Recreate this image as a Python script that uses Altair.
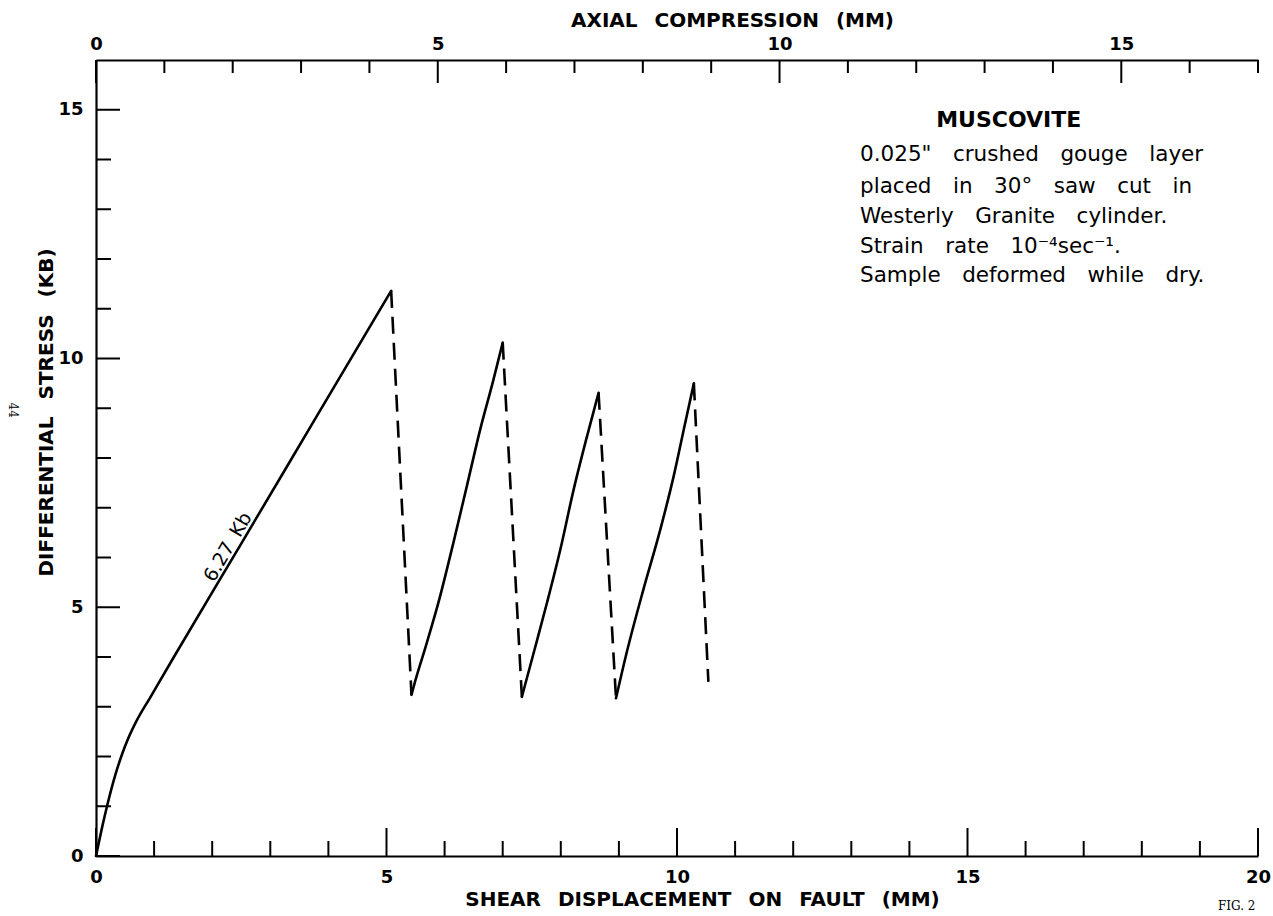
import altair as alt
import pandas as pd

# ---------------- data ----------------
# loading curves (solid): shear displacement on fault (mm) vs differential stress (kb)
seg0_x = [0.0, 0.10, 0.20, 0.33, 0.45, 0.55, 0.70, 0.93, 1.33, 2.50, 3.80, 5.08]
seg0_y = [0.0, 0.55, 1.05, 1.62, 2.05, 2.35, 2.72, 3.18, 3.98, 6.28, 8.84, 11.36]
seg1_x = [5.43, 5.49, 5.69, 5.92, 6.15, 6.38, 6.61, 6.84, 7.00]
seg1_y = [3.24, 3.50, 4.27, 5.21, 6.29, 7.42, 8.56, 9.57, 10.32]
seg2_x = [7.33, 7.53, 7.76, 7.99, 8.22, 8.45, 8.65]
seg2_y = [3.20, 4.07, 5.08, 6.15, 7.36, 8.43, 9.31]
seg3_x = [8.95, 9.13, 9.42, 9.71, 9.94, 10.14, 10.29]
seg3_y = [3.17, 4.07, 5.35, 6.55, 7.62, 8.70, 9.50]

# stress drops (dashed)
drop_x0 = [5.08, 7.00, 8.65, 10.29]
drop_y0 = [11.36, 10.32, 9.31, 9.50]
drop_x1 = [5.43, 7.33, 8.95, 10.54]
drop_y1 = [3.24, 3.20, 3.17, 3.50]

# axis ticks
shear_major = [0, 5, 10, 15, 20]
shear_minor = [1, 2, 3, 4, 6, 7, 8, 9, 11, 12, 13, 14, 16, 17, 18, 19]
stress_major = [0, 5, 10, 15]
stress_minor = [1, 2, 3, 4, 6, 7, 8, 9, 11, 12, 13, 14]
axial_major = [0, 5, 10, 15]
axial_minor = [1, 2, 3, 4, 6, 7, 8, 9, 11, 12, 13, 14, 16, 17]

# annotation text (positions in data units)
title_text = ["MUSCOVITE"]
title_x = [15.71]
title_y = [14.79]
note_lines = [
    "0.025\"\u2003crushed\u2003gouge\u2003layer",
    "placed\u2003in\u200330\u00b0\u2003saw\u2003cut\u2003in",
    "Westerly\u2003Granite\u2003cylinder.",
    "Strain\u2003rate\u200310\u207b\u2074sec\u207b\u00b9.",
    "Sample\u2003deformed\u2003while\u2003dry.",
]
note_x = [13.15, 13.15, 13.15, 13.15, 13.15]
note_y = [14.09, 13.45, 12.85, 12.24, 11.66]
slope_text = ["6.27\u2002Kb"]
slope_x = [2.27]
slope_y = [6.21]

# ---------------- tables ----------------
rows = []
for sid, (xs_, ys_) in enumerate([(seg0_x, seg0_y), (seg1_x, seg1_y), (seg2_x, seg2_y), (seg3_x, seg3_y)]):
    for i, (a, b) in enumerate(zip(xs_, ys_)):
        rows.append({"seg": sid, "i": i, "shear": a, "stress": b})
curve_df = pd.DataFrame(rows)
drop_df = pd.DataFrame({"x0": drop_x0, "y0": drop_y0, "x1": drop_x1, "y1": drop_y1})

W, H = 1162, 796
FONT = "DejaVu Sans"
xs = alt.Scale(domain=[0, 20], nice=False, zero=False)
ys = alt.Scale(domain=[0, 16], nice=False, zero=False)
xa = alt.Scale(domain=[0, 17], nice=False, zero=False)

sp = "\u2002 "

xax = alt.Axis(
    orient="bottom", values=shear_major, ticks=False, tickSize=0, grid=False,
    labelFlush=False, labelFontSize=18, labelFontWeight="bold", labelPadding=12,
    labelFont=FONT, labelColor="black",
    domainColor="black", domainWidth=2.2,
    title="SHEAR" + sp + "DISPLACEMENT" + sp + "ON" + sp + "FAULT" + sp + "(MM)",
    titleFont=FONT, titleFontSize=20, titleFontWeight="bold", titleColor="black",
    titleX=606, titleY=43, titleAlign="center", titleBaseline="middle", titleAngle=0)

yax = alt.Axis(
    orient="left", values=stress_major, ticks=False, tickSize=0, grid=False,
    labelFlush=False, labelFontSize=18, labelFontWeight="bold", labelPadding=13,
    labelFont=FONT, labelColor="black",
    domainColor="black", domainWidth=2.2,
    title="DIFFERENTIAL" + sp + "STRESS" + sp + "(KB)",
    titleFont=FONT, titleFontSize=20, titleFontWeight="bold", titleColor="black",
    titleX=-50, titleY=352, titleAlign="center", titleBaseline="middle", titleAngle=270)

tax = alt.Axis(
    orient="top", values=axial_major, ticks=False, tickSize=0, grid=False,
    labelFlush=False, labelFontSize=18, labelFontWeight="bold", labelPadding=7,
    labelFont=FONT, labelColor="black",
    domainColor="black", domainWidth=2.2,
    title="AXIAL" + sp + "COMPRESSION" + sp + "(MM)",
    titleFont=FONT, titleFontSize=20, titleFontWeight="bold", titleColor="black",
    titleX=636, titleY=-40, titleAlign="center", titleBaseline="middle", titleAngle=0)

solid = alt.Chart(curve_df).mark_line(
    color="black", strokeWidth=2.6, strokeJoin="round", strokeCap="round", interpolate="monotone"
).encode(
    x=alt.X("shear:Q", scale=xs, axis=xax),
    y=alt.Y("stress:Q", scale=ys, axis=yax),
    detail="seg:N",
    order=alt.Order("i:Q"),
)

dashed = alt.Chart(drop_df).mark_rule(color="black", strokeWidth=2.6, strokeDash=[17, 9]).encode(
    x=alt.X("x0:Q", scale=xs, axis=None),
    y=alt.Y("y0:Q", scale=ys, axis=yax),
    x2="x1:Q",
    y2="y1:Q",
)

def vdf(vals):
    return pd.DataFrame({"v": vals})

bot_minor = alt.Chart(vdf(shear_minor)).mark_rule(color="black", strokeWidth=2).encode(
    x=alt.X("v:Q", scale=xs, axis=None), y=alt.value(H), y2=alt.value(H - 15))
bot_major = alt.Chart(vdf(shear_major)).mark_rule(color="black", strokeWidth=2).encode(
    x=alt.X("v:Q", scale=xs, axis=None), y=alt.value(H), y2=alt.value(H - 28))
left_minor = alt.Chart(vdf(stress_minor)).mark_rule(color="black", strokeWidth=2).encode(
    y=alt.Y("v:Q", scale=ys, axis=yax), x=alt.value(0), x2=alt.value(15))
left_major = alt.Chart(vdf(stress_major)).mark_rule(color="black", strokeWidth=2).encode(
    y=alt.Y("v:Q", scale=ys, axis=yax), x=alt.value(0), x2=alt.value(24))
top_minor = alt.Chart(vdf(axial_minor)).mark_rule(color="black", strokeWidth=2).encode(
    x=alt.X("v:Q", scale=xa, axis=None), y=alt.value(0), y2=alt.value(13))
top_major = alt.Chart(vdf(axial_major)).mark_rule(color="black", strokeWidth=2).encode(
    x=alt.X("v:Q", scale=xa, axis=tax), y=alt.value(0), y2=alt.value(23))

def text_layer(x, y, t, **kw):
    return alt.Chart(pd.DataFrame({"x": x, "y": y, "t": t})).mark_text(color="black", **kw).encode(
        x=alt.X("x:Q", scale=xs, axis=None), y=alt.Y("y:Q", scale=ys, axis=yax), text="t:N")

title_layer = text_layer(title_x, title_y, title_text, font=FONT, fontSize=22, fontWeight="bold",
                         align="center", baseline="middle")
note_layer = text_layer(note_x, note_y, note_lines, font=FONT, fontSize=21.5, align="left", baseline="middle")
slope_layer = text_layer(slope_x, slope_y, slope_text, font=FONT, fontSize=19, align="center",
                         baseline="middle", angle=300)
page_layer = text_layer([-1.43], [8.96], ["44"], font="DejaVu Serif", fontSize=12, align="center",
                        baseline="middle", angle=90)
fig_layer = text_layer([19.31], [-1.0], ["FIG. 2"], font="DejaVu Serif", fontSize=12, align="left",
                       baseline="middle")

chart = alt.layer(
    solid, dashed, bot_minor, bot_major, left_minor, left_major, top_minor, top_major,
    title_layer, note_layer, slope_layer, page_layer, fig_layer,
).resolve_scale(x="independent").properties(
    width=W, height=H,
    autosize=alt.AutoSizeParams(type="none"),
    padding={"left": 96, "top": 60, "right": 15, "bottom": 60},
    background="white",
).configure_view(stroke=None)

chart.save("out.html", embed_options={"renderer": "svg", "actions": False})
